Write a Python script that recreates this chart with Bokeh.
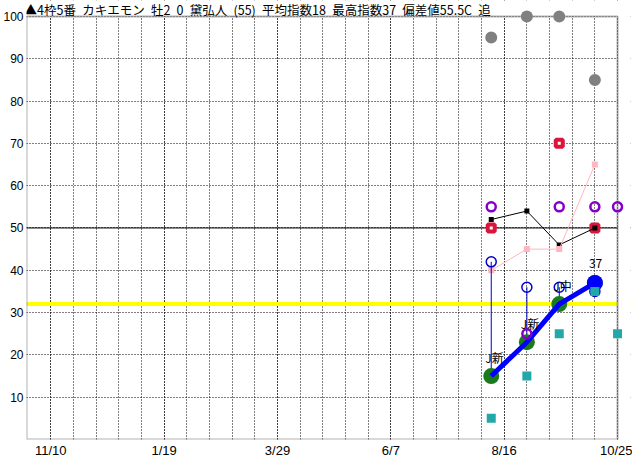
import numpy as np
import pandas as pd
from bokeh.plotting import figure
from bokeh.models import (Range1d, FixedTicker, CustomJSTickFormatter, Span,
                          BoxAnnotation, Label, ColumnDataSource)
from bokeh.core.properties import value
from bokeh.embed import file_html
from bokeh.resources import INLINE

# ---------------- data ----------------
TITLE_PARTS = ["▲4枠5番", "カキエモン", "牡2", "0", "黛弘人", "(55)", "平均指数18",
               "最高指数37", "偏差値55.5C", "追"]

race_dates = ["2020-08-08", "2020-08-30", "2020-09-19", "2020-10-11"]
next_date = "2020-10-25"
speed_index = [15, 23, 32, 37]
race_labels = ["J新", "J新", "J中", "37"]
blue_open = [42, 36, 36, 35]
red_square = [50, np.nan, 70, 50]
black_line = [52, 54, 46, 50]
pink_line = [40, 45, 45, 65]
gray_dot = [95, 100, 100, 85]
purple_ring = [55, 25, 55, 55, 55]     # past races + next race
teal_square = [5, 15, 25, 35, 25]      # past races + next race
average_line = 32
base_line = 50

x_start = "2019-10-26"
x_end = "2020-11-02"
grid_start = "2019-11-10"
label_dates = ["2019-11-10", "2020-01-19", "2020-03-29", "2020-06-07",
               "2020-08-16", "2020-10-25"]
y_ticks = [10, 20, 30, 40, 50, 60, 70, 80, 90, 100]

FONT = "Noto Sans CJK JP"
AXFONT = "Liberation Sans"
TITLE = "\u2002".join(TITLE_PARTS)


def ms(d):
    return float(pd.Timestamp(d).value // 10**6)


past = pd.to_datetime(race_dates)
allx = pd.to_datetime(race_dates + [next_date])
is_max = [v == max(speed_index) for v in speed_index]

src = ColumnDataSource(dict(
    x=past, idx=speed_index, lab=race_labels, bo=blue_open, red=red_square,
    blk=black_line, pink=pink_line, gray=gray_dot,
    maxa=[1.0 if m else 0.0 for m in is_max],
))
src2 = ColumnDataSource(dict(x=allx, pur=purple_ring, teal=teal_square))

p = figure(width=632, height=460, x_axis_type="datetime",
           x_range=Range1d(pd.Timestamp(x_start), pd.Timestamp(x_end)),
           y_range=Range1d(0, 103.765),
           output_backend="svg", toolbar_location=None, title=None,
           min_border_left=25, min_border_right=2, min_border_top=0,
           min_border_bottom=19)
p.outline_line_color = None
p.background_fill_color = "white"
p.border_fill_color = "white"

# axes
grid_ticks = [ms(d) for d in pd.date_range(grid_start, next_date, freq="14D")]
p.xaxis.ticker = FixedTicker(ticks=[ms(d) for d in label_dates], minor_ticks=grid_ticks)
p.xaxis.formatter = CustomJSTickFormatter(
    code="const d = new Date(tick); return (d.getUTCMonth()+1) + '/' + d.getUTCDate();")
p.yaxis.ticker = FixedTicker(ticks=y_ticks)
for ax in (p.xaxis, p.yaxis):
    ax.axis_line_color = None
    ax.major_tick_line_color = None
    ax.minor_tick_line_color = None
    ax.major_tick_out = 0
    ax.major_tick_in = 0
    ax.minor_tick_out = 0
    ax.minor_tick_in = 0
    ax.major_label_text_font = AXFONT
    ax.major_label_text_color = "black"
p.xaxis.major_label_text_font_size = "13px"
p.yaxis.major_label_text_font_size = "12px"
p.xaxis.major_label_standoff = 3
p.yaxis.major_label_standoff = 3

# grids
p.xgrid.grid_line_color = "black"
p.xgrid.grid_line_dash = "1 2"
p.xgrid.minor_grid_line_color = "black"
p.xgrid.minor_grid_line_dash = "1 2"
p.ygrid.grid_line_color = "black"
p.ygrid.grid_line_dash = "1 2"

# reference lines
p.add_layout(Span(location=average_line, dimension="width", line_color="#FFFF00",
                  line_width=4, level="underlay"))
p.add_layout(Span(location=base_line, dimension="width", line_color="black",
                  line_width=1, level="underlay"))
# blank areas outside the chart box
p.add_layout(BoxAnnotation(left=ms(next_date), fill_color="white", fill_alpha=1,
                           line_color=None, level="underlay"))
p.add_layout(BoxAnnotation(bottom=100, fill_color="white", fill_alpha=1,
                           line_color=None, level="underlay"))
# chart box
p.add_layout(BoxAnnotation(right=ms(next_date), top=100, fill_alpha=0,
                           line_color="black", line_width=2, level="underlay"))

# glyphs
p.scatter("x", "red", source=src, marker="square", size=7, line_width=4,
          line_color="#DC143C", fill_color="white")
p.line("x", "blk", source=src, line_color="black", line_width=1)
p.scatter("x", "blk", source=src, marker="square", size=5, line_color=None,
          fill_color="black")
p.line("x", "pink", source=src, line_color="#FFB6C1", line_width=1)
p.scatter("x", "pink", source=src, marker="square", size=6, line_color=None,
          fill_color="#FFB6C1")
p.scatter("x", "gray", source=src, marker="circle", size=12, line_color=None,
          fill_color="#808080")
p.segment(x0="x", y0="bo", x1="x", y1="idx", source=src, line_color="#0000CD",
          line_width=1)
p.scatter("x", "bo", source=src, marker="circle", size=10, line_width=1.5,
          line_color="#0000CD", fill_color=None)
p.scatter("x", "idx", source=src, marker="circle", size=16, line_color=None,
          fill_color="#1B7A1B")
p.line("x", "idx", source=src, line_color="#0000FF", line_width=5)
p.scatter("x", "idx", source=src, marker="circle", size=16, line_color=None,
          fill_color="#0000FF", fill_alpha="maxa")
p.scatter("x", "pur", source=src2, marker="circle", size=9, line_width=2.5,
          line_color="#8400C8", fill_color=None)
p.scatter("x", "teal", source=src2, marker="square", size=9, line_color=None,
          fill_color="#22A8A8")
p.text("x", "idx", text="lab", source=src, x_offset=-6, y_offset=-19,
       text_align="left", text_baseline="middle", text_font=value(FONT),
       text_font_size="12px", text_color="black")

p.add_layout(Label(x=-2, y=430, x_units="screen", y_units="screen", text=TITLE,
                   text_font=FONT, text_font_size="12.5px", text_baseline="middle",
                   text_color="black", level="overlay"))

open("out.html", "w").write(file_html(p, INLINE))
